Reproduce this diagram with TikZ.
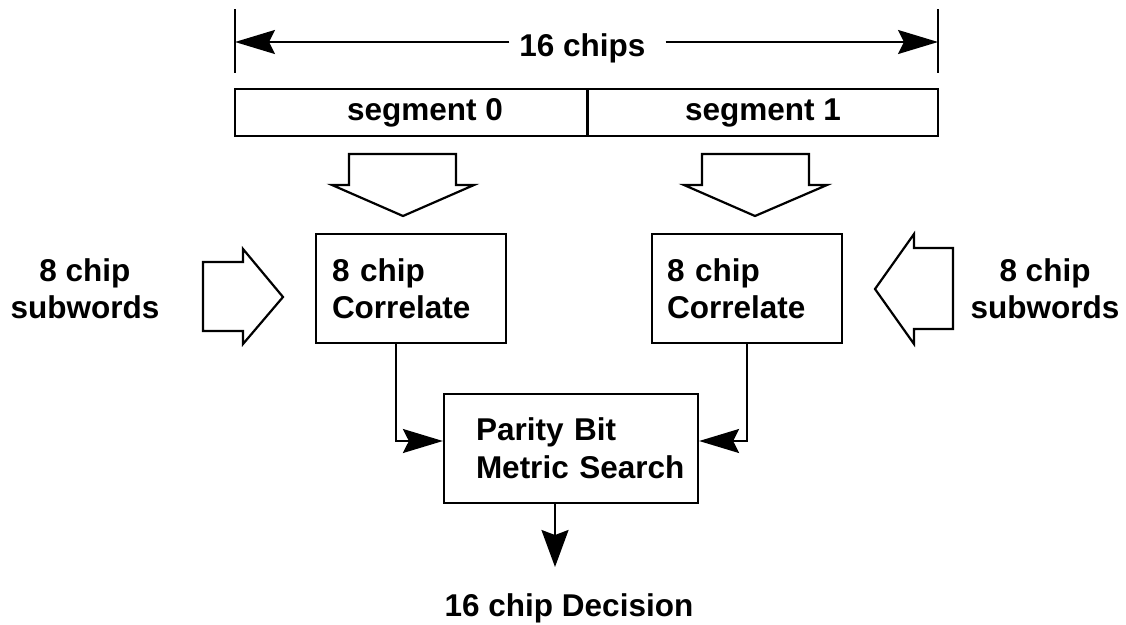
\documentclass[tikz,border=0pt]{standalone}
\usepackage{fontspec}
\setmainfont{Liberation Sans}
\usetikzlibrary{arrows.meta,calc}
\tikzset{
  txt/.style={font=\bfseries\fontsize{31.5}{37}\selectfont, inner sep=0pt},
  box/.style={draw, line width=2.2pt, inner sep=0pt, font=\bfseries\fontsize{31.5}{37}\selectfont},
  blockarrow/.style={draw, line width=2.2pt, line join=miter, fill=white},
  conn/.style={draw, line width=2.2pt, -{Stealth[length=40pt,width=24pt,inset=6pt]}},
  outconn/.style={draw, line width=2.2pt, -{Stealth[length=37pt,width=27pt,inset=5pt]}}
}
\begin{document}
\begin{tikzpicture}[x=1pt,y=-1pt,line width=2.2pt]
\useasboundingbox (0,0) rectangle (1126,624);

% dimension line
\coordinate (tl) at (235,42);
\coordinate (tr) at (938,42);
\draw (235,9) -- (235,73);
\draw (938,9) -- (938,73);
\node[txt, anchor=base] (lbl) at (582.5,56) {16 chips};
\draw[conn, shorten <=9pt] (tl -| lbl.west) -- (tl);
\draw[conn, shorten <=19pt] (tr -| lbl.east) -- (tr);

% segments
\node[box, minimum width=352pt, minimum height=47pt] (seg0) at (411,112.5) {\hspace*{28pt}segment 0};
\node[box, minimum width=350pt, minimum height=47pt] (seg1) at (763,112.5) {segment 1};

% block arrows down
\draw[blockarrow] (349,154) -- (456,154) -- (456,185) -- (474,185) -- (403,216) -- (332,185) -- (349,185) -- cycle;
\draw[blockarrow] (702,154) -- (809,154) -- (809,185) -- (827,185) -- (755,216) -- (684,185) -- (702,185) -- cycle;

% side block arrows
\draw[blockarrow] (203,262) -- (243,262) -- (243,249) -- (283,297) -- (243,344) -- (243,331) -- (203,331) -- cycle;
\draw[blockarrow] (953,248) -- (914,248) -- (914,234) -- (875,289) -- (914,344) -- (914,329) -- (953,329) -- cycle;

% side labels
\node[txt, align=center] (sl) at (85,289) {8 chip\\subwords};
\node[txt, align=center] (sr) at (1045,289) {8 chip\\subwords};

% correlate boxes
\node[box, minimum width=190pt, minimum height=109pt, inner xsep=16pt, text width=158pt, align=left] (c0) at (411,288.5) {8 chip\\Correlate};
\node[box, minimum width=190pt, minimum height=109pt, inner xsep=15pt, text width=160pt, align=left] (c1) at (747,288.5) {8 chip\\Correlate};

% parity box
\node[box, minimum width=254pt, minimum height=109pt, inner xsep=8pt, text width=238pt, align=left, font=\bfseries\fontsize{31.5}{38}\selectfont] (par) at (571,448.5) {\hspace*{24pt}\mbox{Parity Bit}\\\hspace*{24pt}\mbox{Metric Search}};

% connectors
\draw[conn] ([xshift=-15pt]c0.south) |- ([yshift=7.5pt]par.west);
\draw[conn] (c1.south) |- ([yshift=7.5pt]par.east);

% output
\coordinate (outtip) at (555,567);
\draw[outconn] (par.south -| outtip) -- (outtip);
\node[txt, anchor=base] (dec) at (569,616) {16 chip Decision};
\end{tikzpicture}
\end{document}
